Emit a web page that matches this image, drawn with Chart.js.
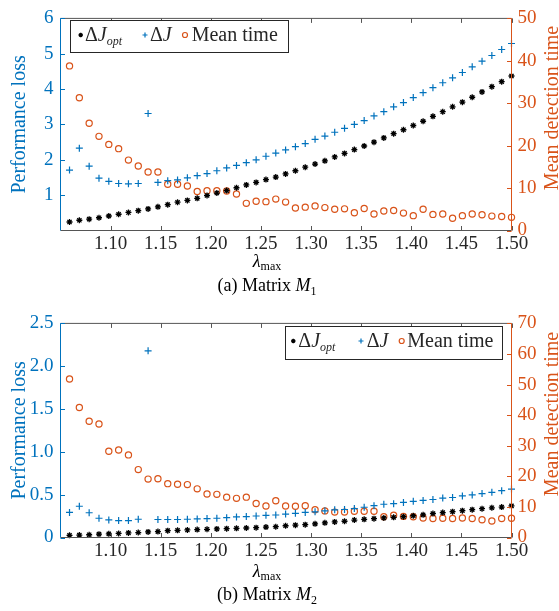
<!DOCTYPE html>
<html><head><meta charset="utf-8">
<script src="https://cdn.jsdelivr.net/npm/chart.js@4.4.0/dist/chart.umd.min.js"></script>
<style>html,body{margin:0;padding:0;background:#fff;}canvas{display:block;}</style>
</head><body>
<canvas id="c1" width="559" height="305"></canvas>
<canvas id="c2" width="559" height="306"></canvas>
<script>
// ---------- data ----------
const lambda = [1.059,1.0688,1.0786,1.0884,1.0982,1.108,1.1178,1.1276,1.1374,1.1472,
  1.157,1.1668,1.1766,1.1864,1.1962,1.206,1.2158,1.2256,1.2354,1.2452,
  1.255,1.2648,1.2746,1.2844,1.2942,1.304,1.3138,1.3236,1.3334,1.3432,
  1.353,1.3628,1.3726,1.3824,1.3922,1.402,1.4118,1.4216,1.4314,1.4412,
  1.451,1.4608,1.4706,1.4804,1.4902,1.500];
const xTicks = [1.10,1.15,1.20,1.25,1.30,1.35,1.40,1.45,1.50];

// Matrix M1
const m1Opt = [0.24,0.29,0.32,0.36,0.41,0.46,0.51,0.56,0.61,0.67,
  0.73,0.80,0.85,0.91,0.99,1.06,1.13,1.21,1.29,1.36,
  1.44,1.51,1.60,1.69,1.79,1.88,1.97,2.08,2.18,2.29,
  2.39,2.50,2.62,2.74,2.85,2.97,3.09,3.23,3.36,3.50,
  3.63,3.77,3.92,4.07,4.21,4.37];
const m1DJ = [1.71,2.33,1.82,1.48,1.39,1.33,1.32,1.33,3.31,1.36,
  1.41,1.43,1.49,1.55,1.61,1.69,1.77,1.84,1.92,2.00,
  2.10,2.19,2.28,2.37,2.46,2.58,2.67,2.78,2.89,3.00,
  3.11,3.24,3.36,3.50,3.62,3.76,3.90,4.04,4.18,4.32,
  4.47,4.63,4.79,4.95,5.12,5.29];
const m1Time = [38.8,31.3,25.3,22.2,20.3,19.3,16.6,15.2,13.8,13.8,
  10.9,10.9,10.5,9.2,9.4,9.4,9.3,8.6,6.4,6.9,
  6.8,7.4,6.7,5.3,5.5,5.8,5.4,5.0,5.1,4.2,
  5.2,3.9,4.6,4.7,4.1,3.5,5.0,3.8,3.9,2.9,
  3.5,3.9,3.7,3.4,3.3,3.1];
const m1LeftTicks = [1,2,3,4,5,6];
const m1RightTicks = [0,10,20,30,40,50];

// Matrix M2
const m2Opt = [0.025,0.028,0.032,0.039,0.043,0.047,0.054,0.058,0.065,0.069,
  0.080,0.084,0.088,0.092,0.096,0.100,0.103,0.107,0.111,0.115,
  0.122,0.126,0.137,0.144,0.150,0.160,0.171,0.182,0.190,0.204,
  0.212,0.220,0.228,0.235,0.243,0.254,0.265,0.280,0.291,0.302,
  0.313,0.325,0.336,0.347,0.355,0.370];
const m2DJ = [0.293,0.365,0.289,0.225,0.205,0.198,0.198,0.213,2.18,0.210,
  0.210,0.210,0.213,0.217,0.221,0.225,0.232,0.240,0.244,0.251,
  0.259,0.263,0.274,0.282,0.293,0.300,0.312,0.323,0.327,0.338,
  0.353,0.372,0.388,0.395,0.410,0.422,0.433,0.444,0.460,0.467,
  0.486,0.497,0.513,0.528,0.547,0.565];
const m2Time = [51.8,42.5,38.0,37.1,28.2,28.6,27.0,22.2,19.1,19.2,
  17.6,17.4,17.3,15.9,14.2,14.1,13.2,12.8,13.2,11.1,
  10.3,12.0,10.3,10.2,10.4,9.1,8.7,8.3,8.3,8.6,
  8.6,8.6,6.8,7.3,6.9,6.8,6.4,6.2,6.3,6.2,
  6.4,6.2,5.8,5.4,6.2,6.3];
const m2LeftTicks = [0,0.5,1.0,1.5,2.0,2.5];
const m2RightTicks = [0,10,20,30,40,50,60,70];

// ---------- style ----------
const BLUE = '#0072BD', ORANGE = '#D95319', DARK = '#262626', FRAME = '#555555';
const FONT = '"Liberation Serif","Times New Roman",serif';
const TL = 4.5;

function pts(xs, ys){ return xs.map((x,i)=>({x:x, y:ys[i]})); }

function drawMarker(ctx, kind, x, y, r){
  ctx.beginPath();
  if (kind === 'star'){
    ctx.strokeStyle = '#000'; ctx.lineWidth = 1.3;
    ctx.moveTo(x-r,y); ctx.lineTo(x+r,y); ctx.moveTo(x,y-r); ctx.lineTo(x,y+r);
    const d = r*0.7071;
    ctx.moveTo(x-d,y-d); ctx.lineTo(x+d,y+d); ctx.moveTo(x-d,y+d); ctx.lineTo(x+d,y-d);
    ctx.stroke();
  } else if (kind === 'cross'){
    ctx.strokeStyle = BLUE; ctx.lineWidth = 1.2;
    ctx.moveTo(x-r,y); ctx.lineTo(x+r,y); ctx.moveTo(x,y-r); ctx.lineTo(x,y+r);
    ctx.stroke();
  } else {
    ctx.strokeStyle = ORANGE; ctx.lineWidth = 1.2;
    ctx.arc(x,y,r,0,Math.PI*2); ctx.stroke();
  }
}

function drawSegs(ctx, segs, x, y, align){
  // segs: [{t, size, italic, dy}]
  let total = 0;
  segs.forEach(s=>{ ctx.font = (s.italic?'italic ':'') + s.size + 'px ' + FONT; s.w = ctx.measureText(s.t).width; total += s.w; });
  let cx = align === 'center' ? x - total/2 : x;
  ctx.textAlign = 'left'; ctx.textBaseline = 'alphabetic';
  segs.forEach(s=>{ ctx.font = (s.italic?'italic ':'') + s.size + 'px ' + FONT; ctx.fillText(s.t, cx, y + (s.dy||0)); cx += s.w; });
}

function figPlugin(p){
  return {
    id: 'fig',
    afterDraw(chart){
      const ctx = chart.ctx, a = chart.chartArea;
      const x = chart.scales.x, yL = chart.scales.yL, yR = chart.scales.yR;
      const line = (x1,y1,x2,y2)=>{ ctx.beginPath(); ctx.moveTo(x1,y1); ctx.lineTo(x2,y2); ctx.stroke(); };
      ctx.save();
      ctx.lineWidth = 1;
      // frame top/bottom + x ticks
      ctx.strokeStyle = FRAME;
      line(a.left, a.top, a.right, a.top);
      line(a.left, a.bottom, a.right, a.bottom);
      xTicks.forEach(v=>{
        const px = Math.round(x.getPixelForValue(v)) + 0.5;
        line(px, a.bottom, px, a.bottom - TL);
        line(px, a.top, px, a.top + TL);
      });
      // left axis
      ctx.strokeStyle = BLUE;
      line(a.left, a.top, a.left, a.bottom);
      p.leftTicks.forEach(v=>{ const py = Math.round(yL.getPixelForValue(v)) + 0.5; line(a.left, py, a.left + TL, py); });
      // right axis
      ctx.strokeStyle = ORANGE;
      line(a.right, a.top, a.right, a.bottom);
      p.rightTicks.forEach(v=>{ const py = Math.round(yR.getPixelForValue(v)) + 0.5; line(a.right, py, a.right - TL, py); });

      // axis titles
      const midY = (a.top + a.bottom)/2;
      ctx.font = '20px ' + FONT;
      ctx.textAlign = 'center'; ctx.textBaseline = 'alphabetic';
      ctx.fillStyle = BLUE;
      ctx.save(); ctx.translate(25, midY); ctx.rotate(-Math.PI/2); ctx.fillText('Performance loss', 0, 0); ctx.restore();
      ctx.fillStyle = ORANGE;
      ctx.save(); ctx.translate(558, midY - 16.5); ctx.rotate(-Math.PI/2); ctx.fillText('Mean detection time', 0, 0); ctx.restore();

      // x label and caption
      ctx.fillStyle = '#000';
      drawSegs(ctx, [{t:'λ', size:18, italic:true}, {t:'max', size:12, dy:3}], 267, p.lamBase, 'center');
      drawSegs(ctx, [{t:'(' + p.cap + ') Matrix ', size:18}, {t:'M', size:18, italic:true}, {t:p.sub, size:12, dy:4}], 267, p.capBase, 'center');

      // legend
      const L = p.legend;
      ctx.fillStyle = '#fff';
      ctx.fillRect(L.box[0], L.box[1], L.box[2], L.box[3]);
      ctx.strokeStyle = DARK; ctx.lineWidth = 1;
      ctx.strokeRect(L.box[0] + 0.5, L.box[1] + 0.5, L.box[2], L.box[3]);
      const my = L.base - 6;
      drawMarker(ctx, 'star', L.mx[0], my, 2.2);
      drawMarker(ctx, 'cross', L.mx[1], my, 2.5);
      drawMarker(ctx, 'circle', L.mx[2], my, 2.5);
      ctx.fillStyle = DARK;
      drawSegs(ctx, [{t:'Δ', size:20}, {t:'J', size:20, italic:true}, {t:'opt', size:12, italic:true, dy:4}], L.tx[0], L.base, 'left');
      drawSegs(ctx, [{t:'Δ', size:20}, {t:'J', size:20, italic:true}], L.tx[1], L.base, 'left');
      drawSegs(ctx, [{t:'Mean time', size:20}], L.tx[2], L.base, 'left');
      ctx.restore();
    }
  };
}

function makeChart(id, p){
  const cv = document.getElementById(id);
  const H = cv.height;
  return new Chart(cv, {
    type: 'scatter',
    data: { datasets: [
      { label: 'ΔJopt', data: pts(lambda, p.opt), yAxisID: 'yL', pointStyle: 'star', pointRadius: 3,
        pointBorderColor: '#000', pointBackgroundColor: '#000', pointBorderWidth: 1.3, clip: false },
      { label: 'ΔJ', data: pts(lambda, p.dj), yAxisID: 'yL', pointStyle: 'cross', pointRadius: 3.5,
        pointBorderColor: BLUE, pointBackgroundColor: BLUE, pointBorderWidth: 1.2, clip: false },
      { label: 'Mean time', data: pts(lambda, p.time), yAxisID: 'yR', pointStyle: 'circle', pointRadius: 3.1,
        pointBorderColor: ORANGE, pointBackgroundColor: 'rgba(255,255,255,0)', pointBorderWidth: 1.2, clip: false }
    ]},
    options: {
      responsive: false, animation: false, devicePixelRatio: 1,
      layout: { padding: { top: p.top, left: 0, right: 0, bottom: 0 } },
      plugins: { legend: { display: false }, tooltip: { enabled: false } },
      events: [],
      scales: {
        x: { type: 'linear', min: 1.05, max: 1.5,
          afterBuildTicks: s => { s.ticks = xTicks.map(v => ({ value: v })); },
          ticks: { callback: v => Number(v).toFixed(2), font: { family: FONT, size: 19 }, color: DARK, padding: 2, maxRotation: 0, autoSkip: false },
          grid: { display: false, drawTicks: false }, border: { display: false },
          afterFit: s => { s.height = H - p.bottom; } },
        yL: { type: 'linear', position: 'left', min: 0, max: p.leftMax,
          afterBuildTicks: s => { s.ticks = p.leftTicks.map(v => ({ value: v })); },
          ticks: { callback: p.leftFmt, font: { family: FONT, size: 19 }, color: BLUE, padding: 7, autoSkip: false },
          grid: { display: false, drawTicks: false }, border: { display: false },
          afterFit: s => { s.width = 60.5; } },
        yR: { type: 'linear', position: 'right', min: 0, max: p.rightMax,
          afterBuildTicks: s => { s.ticks = p.rightTicks.map(v => ({ value: v })); },
          ticks: { callback: v => String(v), font: { family: FONT, size: 19 }, color: ORANGE, padding: 6, autoSkip: false },
          grid: { display: false, drawTicks: false }, border: { display: false },
          afterFit: s => { s.width = 47.5; } }
      }
    },
    plugins: [figPlugin(p)]
  });
}

makeChart('c1', {
  opt: m1Opt, dj: m1DJ, time: m1Time,
  top: 10.5, bottom: 230.5, leftMax: 6, rightMax: 50,
  leftTicks: m1LeftTicks, rightTicks: m1RightTicks,
  leftFmt: v => String(v),
  lamBase: 267, capBase: 291, cap: 'a', sub: '1',
  legend: { box: [70, 20, 218, 32], base: 41, mx: [80.7, 145, 185], tx: [85, 150, 191.7] }
});
makeChart('c2', {
  opt: m2Opt, dj: m2DJ, time: m2Time,
  top: 11.5, bottom: 232.5, leftMax: 2.5, rightMax: 70,
  leftTicks: m2LeftTicks, rightTicks: m2RightTicks,
  leftFmt: v => (v === 0 ? '0' : Number(v).toFixed(1)),
  lamBase: 272, capBase: 295, cap: 'b', sub: '2',
  legend: { box: [285, 21, 217, 33], base: 42, mx: [293.3, 361, 401.7], tx: [298.3, 366.7, 407.3] }
});
</script>
</body></html>
